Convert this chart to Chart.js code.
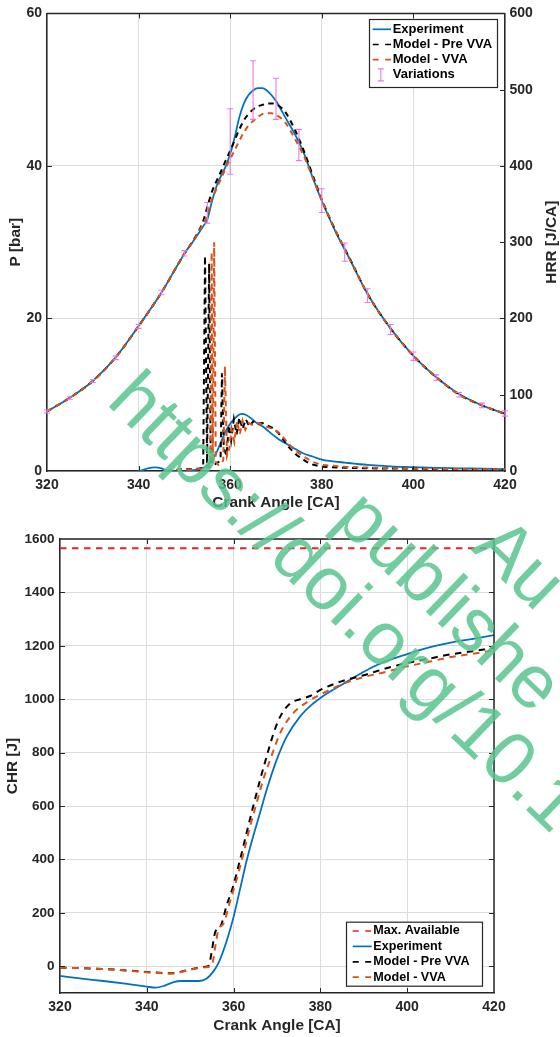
<!DOCTYPE html>
<html>
<head>
<meta charset="utf-8">
<script src="https://cdn.jsdelivr.net/npm/chart.js@4.4.1/dist/chart.umd.min.js"></script>
<style>
  html, body { margin: 0; padding: 0; background: #fff; }
  #page { position: relative; width: 560px; height: 1037px; overflow: hidden; background: #fff; }
  canvas { position: absolute; left: 0; }
  #pressureChart { top: 0; }
  #heatChart { top: 515px; }
  .wm {
    position: absolute;
    font: 75px/75px "Liberation Sans", Arial, sans-serif;
    color: rgba(88, 196, 140, 0.85);
    transform-origin: 0 0;
    transform: rotate(44deg);
    white-space: nowrap;
    pointer-events: none;
  }
</style>
</head>
<body>
<div id="page">
  <canvas id="pressureChart" width="560" height="515"></canvas>
  <canvas id="heatChart" width="560" height="522"></canvas>
  <div class="wm" style="left:149px;top:358px">https://doi.org/10.1</div>
  <div class="wm" style="left:376px;top:476px">publishe</div>
  <div class="wm" style="left:514px;top:504px">Au</div>
</div>
<script>
// ---------- cylinder pressure [bar] ----------
const crankP = [320,325,330,335,340,345,350,352,354,355,356,357,358,359,360,361,362,363,364,365,366,367,368,369,370,371,372,374,376,378,380,383,386,390,395,400,405,410,415,420];
const pExp = [7.8,9.6,11.8,14.9,19.0,23.4,28.5,30.2,32.0,33.0,35.3,37.3,38.7,39.9,41.6,43.8,46.4,48.2,49.3,49.9,50.2,50.2,49.9,49.3,48.5,47.5,46.4,44.3,41.8,38.5,35.4,31.4,27.9,23.2,18.7,15.1,12.3,10.1,8.6,7.5];
const pPre = [7.8,9.6,11.8,14.9,19.0,23.4,28.5,30.3,32.6,34.6,36.6,38.0,39.3,40.7,42.0,43.4,44.8,46.0,46.8,47.4,47.8,48.0,48.2,48.2,48.1,47.7,47.1,44.9,42.1,38.8,35.6,31.5,28.0,23.2,18.7,15.1,12.3,10.0,8.6,7.5];
const pVva = [7.8,9.6,11.8,14.9,19.0,23.4,28.5,30.2,32.3,33.6,35.6,37.0,38.3,39.7,40.9,42.1,43.3,44.4,45.3,45.9,46.4,46.8,46.9,46.9,46.7,46.3,45.7,43.7,41.4,38.5,35.5,31.5,27.9,23.2,18.7,15.1,12.3,10.0,8.6,7.5];

// cycle-to-cycle variation band of the measured pressure [bar]
const crankVar = [320,325,330,335,340,345,350,355,360,365,370,375,380,385,390,395,400,405,410,415,420];
const varLow  = [7.6,9.4,11.6,14.6,18.7,23.1,28.2,32.5,38.9,46.1,46.1,40.7,33.9,27.5,22.1,17.9,14.5,11.9,9.7,8.3,7.2];
const varHigh = [8.0,9.8,12.0,15.1,19.2,23.7,28.9,35.2,47.5,53.8,51.5,44.8,37.0,29.9,23.9,19.2,15.6,12.6,10.3,8.9,7.9];

// ---------- heat release rate [J/CA] ----------
const crankHrrExp = [320,330,338,340,341,342,343.5,345,346.2,348,350,352,353.5,355,356,357,358,359,360,361,362,362.5,363.5,365,366,367.2,368,369.4,370.5,371.6,373,374,376,378,380,382,385,390,395,400,405,410,415,420];
const hrrExp = [-3,-3,-2,-0.5,1.5,3.5,4.8,3.5,0.5,-0.5,-0.5,1,3,7,14,24,38,52,62,69,74,75,73.5,67,62,58,54,47,42,38,33,29.5,23,19,15,13,11,8,6,5,4,3.5,3,2.5];
const crankHrrPre = [320,340,345,347,350,353,354,354.1,354.5,354.95,355.4,355.75,356.5,357.5,357.9,358.2,358.6,359.2,359.7,360.2,360.8,361.4,362,362.7,363.4,364.2,365,366,367,368,369.4,370.5,371.6,373,374.5,376.7,378,380,385,390,400,410,420];
const hrrPre = [-8,-6,-2,1,2.5,3,4,5,282,10,272,10,8,12,15,128,30,20,60,40,68,48,70,55,68,58,65,62,63,60,56,50,41,30,21,12,8.5,5.7,4.2,3.5,3,2,1.5];
const crankHrrVva = [320,340,345,347,350,353,355,355.65,355.95,356.2,356.5,356.85,357.4,358.2,358.5,358.85,359.3,359.8,360.3,360.9,361.5,362.1,362.7,363.3,364,365,366,367,368,369.4,370.5,371.6,373,374.2,376,378,380,385,390,400,410,420];
const hrrVva = [-8,-6,-2,1,2,2.5,4,6,287,10,300,12,8,10,15,137,20,30,55,38,65,48,66,54,63,60,63,61,58,55,51,44,34,27,19,12,8,5.5,4.5,3,2.5,2];

// ---------- cumulative heat release [J] ----------
const crankChrExp = [320,325,330,335,340,342,344,346,348,350,352,353.8,355.3,356.5,358.4,360,361.5,363,364.5,366.1,367.6,369.9,372.2,375.3,378.4,380,385.3,389.9,393.7,400.2,405.3,410.6,415.2,420];
const chrExp = [-36,-46,-55,-65,-76,-80,-73,-60,-55,-55,-55,-46,-20,12,95,185,290,395,486,575,660,772,859,935,985,1005,1058,1102,1133,1170,1195,1214,1226,1240];
const crankChrPre = [320,330,340,345.4,347.7,350.8,353.5,354.3,355,355.8,357,358.4,359.9,361.5,363,364.5,366.1,367.6,369.2,370.7,373,375.3,377.6,380,385,390,395,400,405,410,415,420];
const chrPre = [-5,-10,-21,-26,-21,-9,-2,3,60,130,150,228,300,400,500,598,698,785,872,934,984,1000,1012,1035,1068,1090,1115,1136,1152,1168,1180,1192];
const crankChrVva = [320,330,340,345.4,347.7,350.8,353.5,355,355.8,356.5,357.7,359.1,360.7,362.3,363.8,365.3,366.8,368.4,370.7,373,375.3,377.6,380,385,390,395,400,405,410,415,420];
const chrVva = [-5,-10,-22,-27,-22,-10,-4,5,76,138,160,238,325,424,524,611,698,772,872,934,971,996,1018,1056,1083,1102,1123,1140,1158,1170,1183];
const crankMax = [320, 420];
const chrMax = [1565, 1565];

// ---------- styling ----------
const FONT = '"Liberation Sans", Arial, Helvetica, sans-serif';
const INK = '#262626';
const GRID = '#dcdcdc';
const BLUE = '#0072BD', ORANGE = '#D95319', BLACK = '#000000', RED = '#ee2222', MAGENTA = '#e67be6';

Chart.defaults.font.family = FONT;
Chart.defaults.color = INK;

function xy(xs, ys) { return xs.map((x, i) => ({ x, y: ys[i] })); }
const plain = v => String(v);

// inward tick marks and the closing sides of the axes box
const frame = {
  id: 'frame',
  afterDraw(chart, args, opts) {
    const { ctx, chartArea: a } = chart;
    const xs = chart.scales.x;
    const left = chart.scales[opts.left];
    const right = opts.right ? chart.scales[opts.right] : null;
    const L = 5;
    ctx.save();
    ctx.strokeStyle = INK;
    ctx.lineWidth = 1;
    ctx.beginPath();
    xs.ticks.forEach(t => {
      const p = Math.round(xs.getPixelForValue(t.value)) + 0.5;
      if (p <= a.left + 1 || p >= a.right - 1) return;
      ctx.moveTo(p, a.bottom); ctx.lineTo(p, a.bottom - L);
      ctx.moveTo(p, a.top); ctx.lineTo(p, a.top + L);
    });
    left.ticks.forEach(t => {
      const p = Math.round(left.getPixelForValue(t.value)) + 0.5;
      if (p <= a.top + 1 || p >= a.bottom - 1) return;
      ctx.moveTo(a.left, p); ctx.lineTo(a.left + L, p);
      if (!right) { ctx.moveTo(a.right, p); ctx.lineTo(a.right - L, p); }
    });
    if (right) {
      right.ticks.forEach(t => {
        const p = Math.round(right.getPixelForValue(t.value)) + 0.5;
        if (p <= a.top + 1 || p >= a.bottom - 1) return;
        ctx.moveTo(a.right, p); ctx.lineTo(a.right - L, p);
      });
    }
    ctx.stroke();
    ctx.lineWidth = 1.5;
    ctx.beginPath();
    ctx.moveTo(a.left, a.top);
    ctx.lineTo(a.right, a.top);
    if (!right) ctx.lineTo(a.right, a.bottom);
    ctx.stroke();
    ctx.restore();
  }
};

// vertical error bars with caps for the measured variation
const errorBars = {
  id: 'errorBars',
  afterDatasetsDraw(chart, args, opts) {
    if (!opts.x) return;
    const { ctx } = chart;
    const xs = chart.scales.x, ys = chart.scales[opts.axis];
    ctx.save();
    ctx.strokeStyle = MAGENTA;
    ctx.lineWidth = 1.1;
    ctx.beginPath();
    opts.x.forEach((v, i) => {
      const px = xs.getPixelForValue(v);
      const lo = ys.getPixelForValue(opts.low[i]);
      const hi = ys.getPixelForValue(opts.high[i]);
      ctx.moveTo(px, lo); ctx.lineTo(px, hi);
      ctx.moveTo(px - 3, lo); ctx.lineTo(px + 3, lo);
      ctx.moveTo(px - 3, hi); ctx.lineTo(px + 3, hi);
    });
    ctx.stroke();
    ctx.restore();
  }
};

// boxed legend drawn inside the plot area
const boxLegend = {
  id: 'boxLegend',
  afterDraw(chart, args, opts) {
    const { ctx } = chart;
    const b = opts.box;
    ctx.save();
    ctx.fillStyle = '#fff';
    ctx.fillRect(b.x, b.y, b.w, b.h);
    ctx.strokeStyle = INK;
    ctx.lineWidth = 1.2;
    ctx.strokeRect(b.x + 0.5, b.y + 0.5, b.w, b.h);
    ctx.font = 'bold ' + opts.size + 'px ' + FONT;
    ctx.textBaseline = 'middle';
    ctx.textAlign = 'left';
    opts.items.forEach((it, i) => {
      const y = b.y + opts.first + i * opts.step;
      const [x0, x1] = opts.sample;
      let label;
      if (it === 'bars') {
        label = 'Variations';
        const cx = (x0 + x1) / 2 - 1;
        ctx.strokeStyle = MAGENTA; ctx.lineWidth = 1.1; ctx.setLineDash([]);
        ctx.beginPath();
        ctx.moveTo(cx, y - 6); ctx.lineTo(cx, y + 6);
        ctx.moveTo(cx - 3, y - 6); ctx.lineTo(cx + 3, y - 6);
        ctx.moveTo(cx - 3, y + 6); ctx.lineTo(cx + 3, y + 6);
        ctx.stroke();
      } else {
        const ds = chart.data.datasets[it];
        label = ds.label;
        ctx.strokeStyle = ds.borderColor;
        ctx.lineWidth = 1.7;
        ctx.setLineDash(ds.borderDash && ds.borderDash.length ? [6, 6.5] : []);
        ctx.beginPath(); ctx.moveTo(x0, y); ctx.lineTo(x1, y); ctx.stroke();
        ctx.setLineDash([]);
      }
      ctx.fillStyle = '#000';
      ctx.fillText(label, opts.textX, y);
    });
    ctx.restore();
  }
};

// right-hand axis title, read bottom to top
const rightTitle = {
  id: 'rightTitle',
  afterDraw(chart, args, opts) {
    if (!opts.text) return;
    const { ctx, chartArea: a } = chart;
    ctx.save();
    ctx.translate(opts.x, (a.top + a.bottom) / 2);
    ctx.rotate(-Math.PI / 2);
    ctx.font = 'bold 15.4px ' + FONT;
    ctx.fillStyle = INK;
    ctx.textAlign = 'center';
    ctx.textBaseline = 'middle';
    ctx.fillText(opts.text, 0, 0);
    ctx.restore();
  }
};

function line(label, xs, ys, color, dash, axis, smooth, width) {
  return {
    label,
    data: xy(xs, ys),
    yAxisID: axis,
    borderColor: color,
    backgroundColor: color,
    borderWidth: width || 1.7,
    borderDash: dash,
    pointRadius: 0,
    fill: false,
    tension: 0,
    cubicInterpolationMode: smooth ? 'monotone' : 'default'
  };
}

const tickFont = size => ({ size, weight: 'bold' });
const titleFont = { size: 15.4, weight: 'bold', lineHeight: 1.2 };
const DASH_TOP = [5.5, 4.5];
const DASH_BOT = [6.5, 5.5];

// ---------- pressure and heat release rate ----------
new Chart(document.getElementById('pressureChart'), {
  type: 'line',
  data: {
    datasets: [
      line('Model - VVA', crankP, pVva, ORANGE, DASH_TOP, 'yP', true, 2),
      line('Model - Pre VVA', crankP, pPre, BLACK, DASH_TOP, 'yP', true, 2),
      line('Experiment', crankP, pExp, BLUE, [], 'yP', true, 1.8),
      line('HRR VVA', crankHrrVva, hrrVva, ORANGE, DASH_TOP, 'yH', false, 2),
      line('HRR Pre VVA', crankHrrPre, hrrPre, BLACK, DASH_TOP, 'yH', false, 2),
      line('HRR Experiment', crankHrrExp, hrrExp, BLUE, [], 'yH', true, 1.8)
    ]
  },
  options: {
    responsive: false,
    animation: false,
    devicePixelRatio: 1,
    layout: { padding: { top: 12, right: 0, bottom: 0, left: 0 } },
    plugins: {
      legend: { display: false },
      tooltip: { enabled: false },
      frame: { left: 'yP', right: 'yH' },
      errorBars: { x: crankVar, low: varLow, high: varHigh, axis: 'yP' },
      boxLegend: {
        box: { x: 369, y: 19, w: 128, h: 68 },
        items: [2, 1, 0, 'bars'],
        first: 10.3, step: 15.2,
        sample: [372.7, 391], textX: 392.7, size: 13
      },
      rightTitle: { text: 'HRR [J/CA]', x: 552 }
    },
    scales: {
      x: {
        type: 'linear', min: 320, max: 420,
        ticks: { stepSize: 20, font: tickFont(14), color: INK, padding: 5.6, maxRotation: 0, callback: plain },
        grid: { color: GRID, lineWidth: 1, drawTicks: false },
        border: { color: INK, width: 1.5 },
        title: { display: true, text: 'Crank Angle [CA]', font: titleFont, color: INK, padding: { top: 0, bottom: 2.8 } },
        afterFit: s => { s.height = 44; }
      },
      yP: {
        type: 'linear', position: 'left', min: 0, max: 60,
        ticks: { stepSize: 20, font: tickFont(14), color: INK, padding: 5, callback: plain },
        grid: { color: GRID, lineWidth: 1, drawTicks: false },
        border: { color: INK, width: 1.5 },
        title: { display: true, text: 'P [bar]', font: titleFont, color: INK, padding: { top: 6.3, bottom: 0 } },
        afterFit: s => { s.width = 47; }
      },
      yH: {
        type: 'linear', position: 'right', min: 0, max: 600,
        ticks: { stepSize: 100, font: tickFont(14), color: INK, padding: 4.5, callback: plain },
        grid: { drawOnChartArea: false, drawTicks: false },
        border: { color: INK, width: 1.5 },
        afterFit: s => { s.width = 55; }
      }
    }
  },
  plugins: [frame, errorBars, boxLegend, rightTitle]
});

// ---------- cumulative heat release ----------
new Chart(document.getElementById('heatChart'), {
  type: 'line',
  data: {
    datasets: [
      line('Model - VVA', crankChrVva, chrVva, ORANGE, DASH_BOT, 'y', true, 2),
      line('Model - Pre VVA', crankChrPre, chrPre, BLACK, DASH_BOT, 'y', true, 2),
      line('Experiment', crankChrExp, chrExp, BLUE, [], 'y', true, 1.8),
      line('Max. Available', crankMax, chrMax, RED, DASH_BOT, 'y', false, 2)
    ]
  },
  options: {
    responsive: false,
    animation: false,
    devicePixelRatio: 1,
    layout: { padding: { top: 24, right: 66, bottom: 0, left: 0 } },
    plugins: {
      legend: { display: false },
      tooltip: { enabled: false },
      frame: { left: 'y' },
      boxLegend: {
        box: { x: 346, y: 406.7, w: 136, h: 64 },
        items: [3, 2, 1, 0],
        first: 9.3, step: 15.4,
        sample: [352.7, 371.7], textX: 373.3, size: 12.6
      }
    },
    scales: {
      x: {
        type: 'linear', min: 320, max: 420,
        ticks: { stepSize: 20, font: tickFont(14), color: INK, padding: 5.5, maxRotation: 0, callback: plain },
        grid: { color: GRID, lineWidth: 1, drawTicks: false },
        border: { color: INK, width: 1.5 },
        title: { display: true, text: 'Crank Angle [CA]', font: titleFont, color: INK, padding: { top: 0, bottom: 1.8 } },
        afterFit: s => { s.height = 44; }
      },
      y: {
        type: 'linear', position: 'left', min: -100, max: 1600,
        ticks: { stepSize: 200, font: tickFont(13.5), color: INK, padding: 5.5, callback: plain },
        afterBuildTicks: s => { s.ticks = s.ticks.filter(t => t.value >= 0); },
        grid: { color: GRID, lineWidth: 1, drawTicks: false },
        border: { color: INK, width: 1.5 },
        title: { display: true, text: 'CHR [J]', font: titleFont, color: INK, padding: { top: 3.3, bottom: 0 } },
        afterFit: s => { s.width = 60; }
      }
    }
  },
  plugins: [frame, boxLegend]
});
</script>
</body>
</html>
